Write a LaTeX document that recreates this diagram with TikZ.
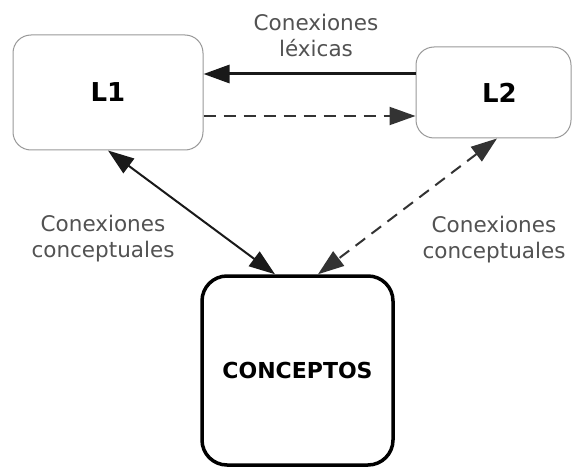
\documentclass[tikz,border=0pt]{standalone}
\usepackage{fontspec}
\setmainfont{DejaVu Sans}
\usetikzlibrary{arrows.meta}
\begin{document}
\begin{tikzpicture}[x=1pt,y=-1pt,
  lbox/.style={draw=black!40, line width=1pt, rounded corners=18pt, fill=white,
    font=\bfseries\fontsize{26}{30}\selectfont, inner sep=0pt},
  cbox/.style={draw=black, line width=3.5pt, rounded corners=25pt, fill=white,
    font=\bfseries\fontsize{22}{26}\selectfont, minimum width=191pt, minimum height=189pt, inner sep=0pt},
  lbl/.style={text=black!68, font=\fontsize{21.5}{26}\selectfont, align=center, inner sep=0pt},
  onetip/.style={-{Triangle[length=26pt,width=18pt]}},
  twotip/.style={{Triangle[length=26pt,width=18pt]}-{Triangle[length=26pt,width=18pt]}},
  dashline/.style={dash pattern=on 12pt off 8pt, draw=black!80, line width=2pt}
]
\useasboundingbox (0,0) rectangle (573,468);
\fill[white] (0,0) rectangle (573,468);

\node[lbox, minimum width=190pt, minimum height=115pt] (L1) at (108,92.5) {L1};
\node[lbox, minimum width=155pt, minimum height=91pt] (L2) at (493.5,92.5) {\hspace*{12pt}L2};
\node[cbox] (C) at (297.5,370.5) {CONCEPTOS};

\draw[onetip, line width=3pt, draw=black!90] ([yshift=18.5pt]L2.west) -- ([yshift=18.5pt]L1.east);
\draw[onetip, dashline] ([yshift=-23.5pt]L1.east) -- ([yshift=-23.5pt]L2.west);
\draw[twotip, line width=2pt, draw=black!90] (L1.south) -- ([xshift=-22.5pt]C.north);
\draw[twotip, dashline] ([xshift=3.5pt]L2.south) -- ([xshift=20.5pt]C.north);

\node[lbl] (top) at (316,35) {Conexiones\\léxicas};
\node[lbl] (left) at (103,239) {Conexiones\\conceptuales};
\node[lbl] (right) at (494,240) {Conexiones\\conceptuales};
\end{tikzpicture}
\end{document}
